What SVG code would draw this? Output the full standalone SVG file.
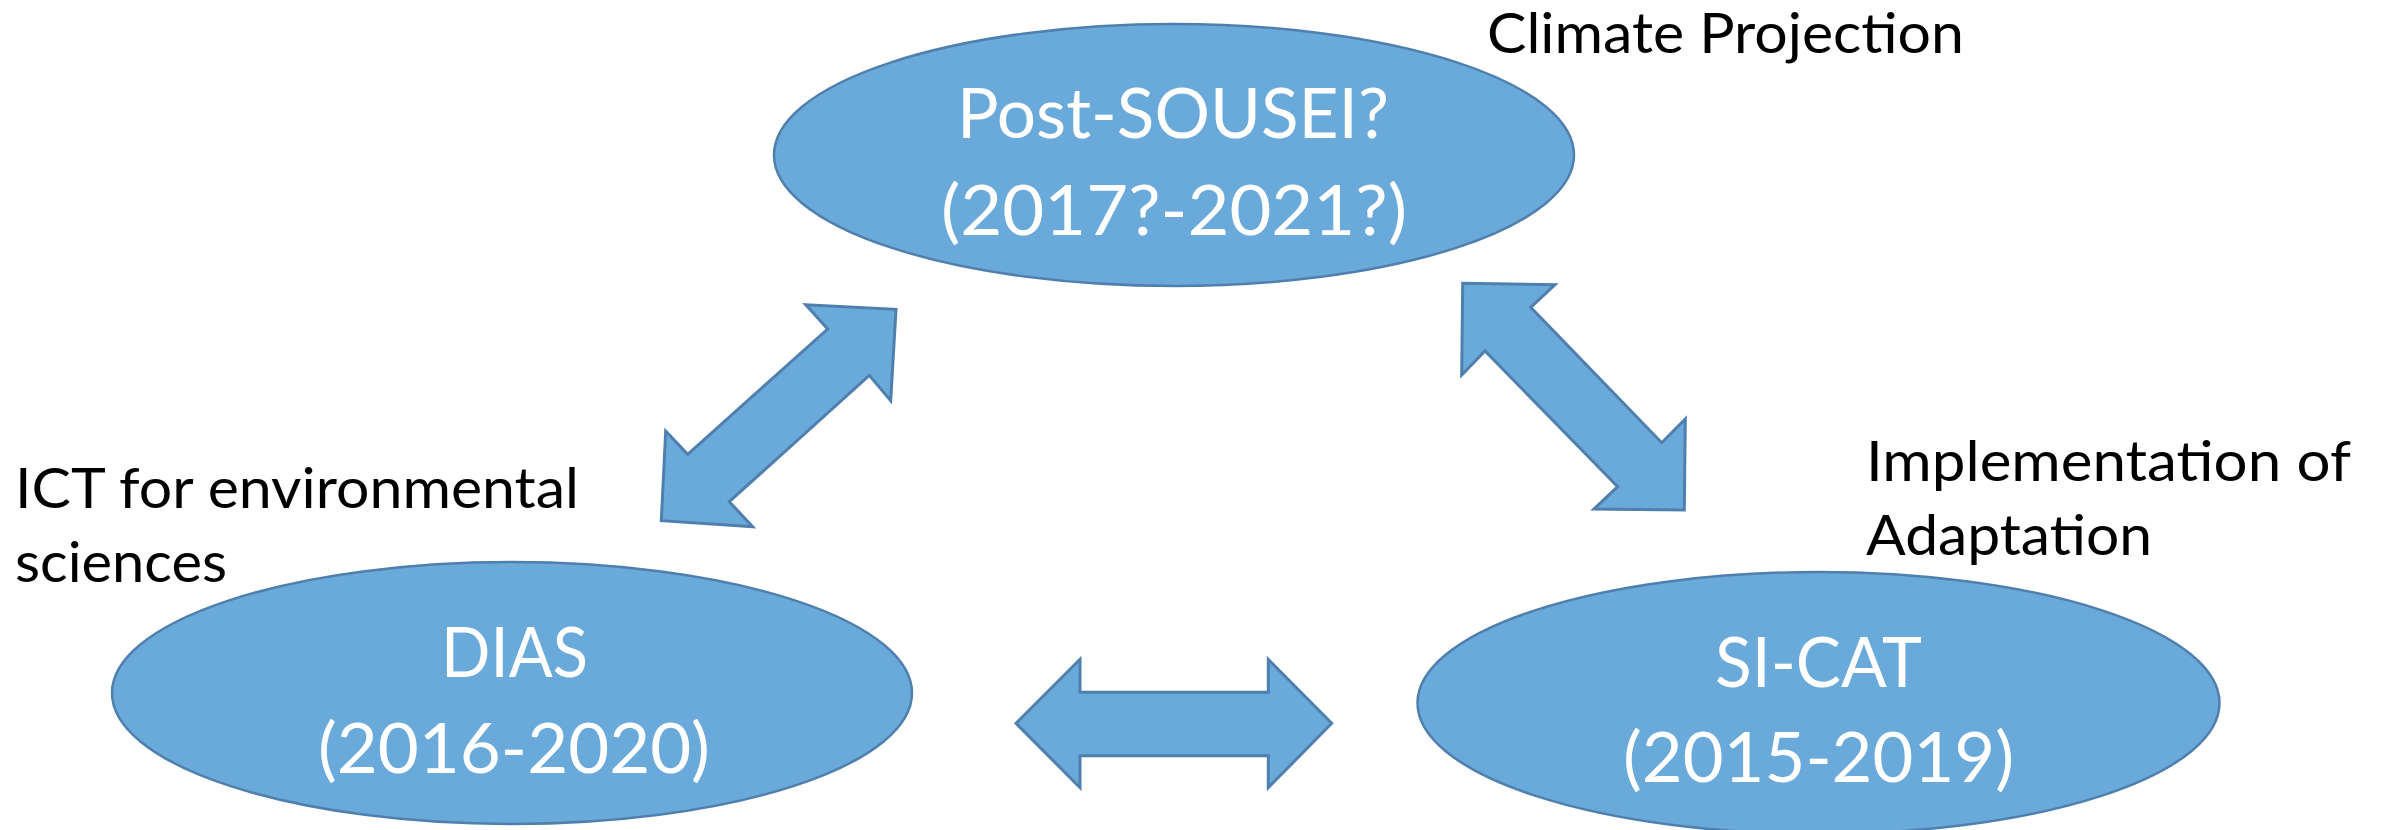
<svg xmlns="http://www.w3.org/2000/svg" width="2387" height="830" viewBox="0 0 2387 830">
<style>
.node{fill:#6aaadb;stroke:#4f80ad;stroke-width:2.5}
.arrow{fill:#6aaadb;stroke:#4f80ad;stroke-width:3;stroke-linejoin:miter}
.nt{font-family:Lato,"Open Sans","Liberation Sans",sans-serif;font-size:70px;fill:#ffffff}
.lbl{font-family:Lato,"Open Sans","Liberation Sans",sans-serif;font-size:57px;fill:#000000}
</style>
<rect width="2387" height="830" fill="#ffffff"/>
<g id="connectors">
<polygon class="arrow" points="805.7,304.7 896,309.3 890.7,400.7 869.3,375.3 729.3,501.7 752.7,526.7 661.3,520.7 665.7,431 687.7,454.3 827.7,329"/>
<polygon class="arrow" points="1462.7,283.3 1555,284.7 1530.7,307.3 1661.7,442.7 1685.3,419 1684.3,510 1594,509 1617.7,486.7 1485,351 1461.7,375"/>
<polygon class="arrow" points="1016,723.3 1080,659.3 1080,692.3 1268.3,692.3 1268.3,659.3 1331.7,723.3 1268.3,787.7 1268.3,755.7 1080,755.7 1080,787.7"/>
</g>
<g id="node-post-sousei">
<ellipse class="node" cx="1174" cy="155" rx="400" ry="131"/>
<text class="nt" x="957" y="138" textLength="432" lengthAdjust="spacingAndGlyphs">Post-SOUSEI?</text>
<text class="nt" x="941" y="235" textLength="466" lengthAdjust="spacingAndGlyphs">(2017?-2021?)</text>
</g>
<g id="node-dias">
<ellipse class="node" cx="512" cy="693" rx="400" ry="131"/>
<text class="nt" x="441" y="677" textLength="147" lengthAdjust="spacingAndGlyphs">DIAS</text>
<text class="nt" x="318" y="773" textLength="392" lengthAdjust="spacingAndGlyphs">(2016-2020)</text>
</g>
<g id="node-sicat">
<ellipse class="node" cx="1818.5" cy="703" rx="401" ry="131"/>
<text class="nt" x="1715" y="687" textLength="207" lengthAdjust="spacingAndGlyphs">SI-CAT</text>
<text class="nt" x="1623" y="782" textLength="391" lengthAdjust="spacingAndGlyphs">(2015-2019)</text>
</g>
<g id="labels">
<text class="lbl" x="1487" y="53" textLength="477" lengthAdjust="spacingAndGlyphs">Climate Projection</text>
<text class="lbl" x="15" y="508" textLength="564" lengthAdjust="spacingAndGlyphs">ICT for environmental</text>
<text class="lbl" x="15" y="582" textLength="212" lengthAdjust="spacingAndGlyphs">sciences</text>
<text class="lbl" x="1866" y="481" textLength="485" lengthAdjust="spacingAndGlyphs">Implementation of</text>
<text class="lbl" x="1866" y="555" textLength="286" lengthAdjust="spacingAndGlyphs">Adaptation</text>
</g>
</svg>
